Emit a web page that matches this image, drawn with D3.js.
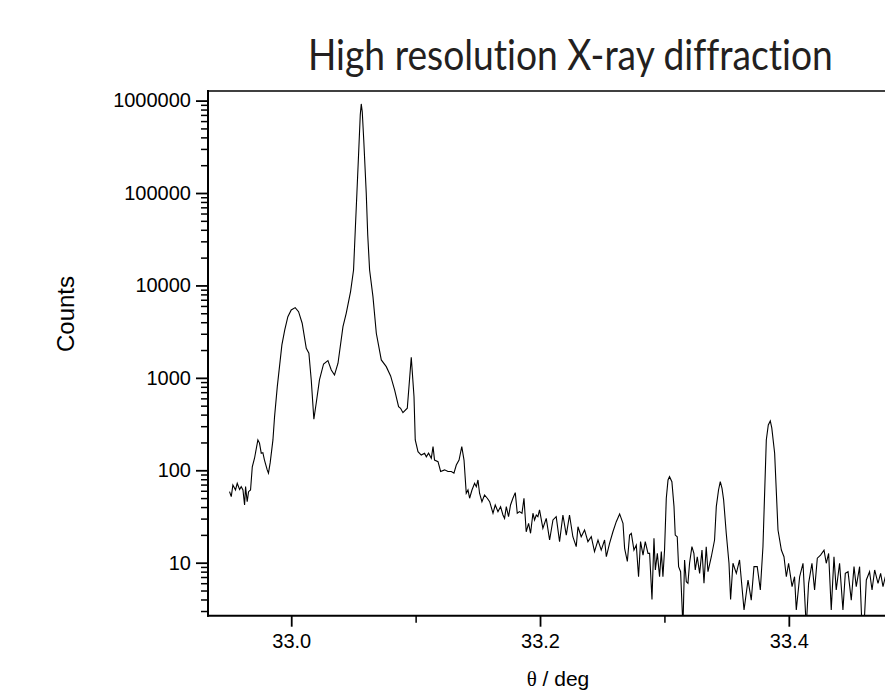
<!DOCTYPE html>
<html>
<head>
<meta charset="utf-8">
<script src="https://cdn.jsdelivr.net/npm/d3@7"></script>
<style>
  html, body { margin: 0; padding: 0; background: #fff; overflow: hidden; }
  svg { display: block; }
  .title { font-variant-ligatures: none; font-feature-settings: "liga" 0, "clig" 0; }
</style>
</head>
<body>
<svg id="chart" width="885" height="692"></svg>
<script>
// ---- data ----
const titleText = "High resolution X-ray diffraction";
const xLabel = "θ / deg";
const yLabel = "Counts";
const xMajorTicks = [33.0, 33.2, 33.4];
const xMinorTicks = [33.1, 33.3];
const yMajorTicks = [10, 100, 1000, 10000, 100000, 1000000];

const theta = [
  32.9504, 32.9518, 32.9531, 32.9552, 32.9566, 32.9585, 32.9598, 32.9612, 32.9625, 32.9633,
  32.9646, 32.9657, 32.9673, 32.9687, 32.9705, 32.9732, 32.9745, 32.9759, 32.9772, 32.9785,
  32.9807, 32.9817, 32.9831, 32.9853, 32.9866, 32.9888, 32.9925, 32.9948, 32.9973, 33.0000,
  33.0032, 33.0059, 33.0088, 33.0121, 33.0142, 33.0161, 33.0182, 33.0201, 33.0227, 33.0260,
  33.0295, 33.0322, 33.0348, 33.0376, 33.0416, 33.0442, 33.0477, 33.0501, 33.0515, 33.0528,
  33.0543, 33.0555, 33.0563, 33.0571, 33.0583, 33.0603, 33.0615, 33.0630, 33.0657, 33.0684,
  33.0724, 33.0764, 33.0799, 33.0831, 33.0863, 33.0879, 33.0898, 33.0933, 33.0965, 33.0987,
  33.0997, 33.1019, 33.1045, 33.1072, 33.1086, 33.1104, 33.1126, 33.1140, 33.1152, 33.1180,
  33.1201, 33.1233, 33.1260, 33.1287, 33.1308, 33.1327, 33.1349, 33.1371, 33.1389, 33.1407,
  33.1421, 33.1434, 33.1453, 33.1474, 33.1488, 33.1501, 33.1514, 33.1533, 33.1554, 33.1576,
  33.1595, 33.1622, 33.1640, 33.1662, 33.1683, 33.1702, 33.1715, 33.1729, 33.1747, 33.1763,
  33.1782, 33.1801, 33.1817, 33.1835, 33.1855, 33.1871, 33.1889, 33.1908, 33.1924, 33.1943,
  33.1956, 33.1970, 33.1983, 33.1996, 33.2023, 33.2050, 33.2077, 33.2104, 33.2130, 33.2157,
  33.2184, 33.2211, 33.2237, 33.2264, 33.2291, 33.2305, 33.2331, 33.2358, 33.2385, 33.2412,
  33.2438, 33.2466, 33.2492, 33.2519, 33.2533, 33.2559, 33.2586, 33.2613, 33.2640, 33.2667,
  33.2680, 33.2702, 33.2720, 33.2734, 33.2755, 33.2774, 33.2792, 33.2808, 33.2828, 33.2846,
  33.2868, 33.2881, 33.2900, 33.2916, 33.2927, 33.2943, 33.2961, 33.2975, 33.2988, 33.3001,
  33.3015, 33.3029, 33.3041, 33.3060, 33.3077, 33.3087, 33.3103, 33.3114, 33.3130, 33.3149,
  33.3162, 33.3176, 33.3189, 33.3202, 33.3221, 33.3237, 33.3248, 33.3264, 33.3283, 33.3302,
  33.3318, 33.3336, 33.3350, 33.3377, 33.3403, 33.3417, 33.3435, 33.3449, 33.3463, 33.3476,
  33.3497, 33.3519, 33.3532, 33.3551, 33.3578, 33.3604, 33.3640, 33.3672, 33.3698, 33.3720,
  33.3746, 33.3771, 33.3792, 33.3819, 33.3835, 33.3851, 33.3863, 33.3886, 33.3913, 33.3940,
  33.3961, 33.3980, 33.3998, 33.4026, 33.4046, 33.4060, 33.4087, 33.4114, 33.4140, 33.4159,
  33.4186, 33.4207, 33.4229, 33.4255, 33.4283, 33.4301, 33.4320, 33.4341, 33.4363, 33.4381,
  33.4408, 33.4435, 33.4454, 33.4476, 33.4502, 33.4524, 33.4542, 33.4569, 33.4588, 33.4604,
  33.4623, 33.4649, 33.4669, 33.4690, 33.4717, 33.4738, 33.4757, 33.4776, 33.4800
];

const counts = [
  58.7, 51.8, 69.3, 61.2, 72.3, 62.0, 66.5, 61.2, 42.1, 66.5,
  45.7, 58.7, 61.2, 109, 135, 213, 197, 153, 155, 129,
  101, 93, 121, 213, 380, 803, 2270, 3300, 4595, 5430,
  5750, 5200, 3900, 2090, 1846, 949, 357, 535, 949, 1414,
  1535, 1218, 1075, 1439, 3585, 5000, 8580, 14700, 40000, 100000,
  293000, 700000, 920000, 757000, 375000, 100000, 35200, 14700, 7570, 3040,
  1563, 1322, 1049, 740, 488, 469, 420, 469, 1671, 626,
  213, 159, 146, 153, 140, 153, 135, 180, 129, 124,
  97, 101, 97, 97, 93, 114, 129, 180, 129, 56.4,
  61.2, 49.8, 61.2, 72.3, 66.5, 78.5, 56.4, 45.7, 54.0, 49.8,
  45.7, 34.3, 42.1, 35.7, 40.4, 32.8, 30.2, 40.4, 31.5, 42.1,
  49.8, 57.3, 34.3, 35.7, 34.3, 49.8, 21.6, 26.7, 20.8, 34.3,
  29.0, 32.8, 31.5, 37.2, 23.6, 30.2, 17.6, 29.0, 31.5, 16.9,
  32.8, 19.9, 32.8, 19.1, 14.9, 24.5, 19.1, 22.6, 16.9, 19.1,
  13.2, 17.6, 13.7, 17.6, 11.6, 16.2, 21.6, 27.8, 33.7, 26.7,
  14.3, 10.3, 19.9, 20.8, 13.7, 15.5, 7.05, 16.9, 12.1, 16.9,
  12.6, 12.6, 4.0, 18.4, 8.34, 12.6, 7.05, 13.2, 7.05, 13.7,
  49.8, 78.5, 85.3, 75.3, 40.4, 19.9, 19.1, 9.06, 7.99, 2.0,
  10.7, 6.23, 5.98, 9.86, 14.9, 12.6, 8.34, 11.6, 7.67, 13.7,
  5.98, 14.9, 7.99, 11.6, 17.6, 40.4, 61.2, 75.3, 63.8, 47.7,
  20.8, 9.86, 4.0, 9.86, 7.67, 10.7, 3.08, 6.5, 3.94, 9.06,
  9.06, 5.07, 14.9, 213, 309, 342, 287, 153, 22.6, 13.7,
  11.6, 7.05, 9.86, 5.5, 7.05, 3.08, 7.05, 9.86, 2.0, 5.98,
  9.86, 5.07, 11.2, 12.1, 13.7, 9.86, 12.6, 3.08, 11.6, 5.07,
  9.86, 3.08, 7.67, 7.99, 3.94, 9.06, 5.5, 9.06, 2.0, 2.0,
  6.5, 7.99, 5.07, 8.34, 5.98, 7.67, 5.5, 7.05, 5.07
];

const data = theta.map((t, i) => ({ t: t, c: counts[i] }));

// ---- layout ----
const svg = d3.select("#chart");
const plotLeft = 208, plotTop = 91, plotBottom = 615.7;
const pxPerDeg = 1244;
const xMin = 32.9331, xMax = 33.5;

const x = d3.scaleLinear().domain([xMin, xMax])
  .range([plotLeft, plotLeft + (xMax - xMin) * pxPerDeg]);
const y = d3.scaleLog().domain([2.67, 1.27e6]).range([plotBottom, plotTop]);

const plotRight = Math.min(x(xMax), 885);

svg.append("defs").append("clipPath").attr("id", "clip")
  .append("rect").attr("x", plotLeft).attr("y", plotTop)
  .attr("width", x(xMax) - plotLeft).attr("height", plotBottom - plotTop);

// curve
const line = d3.line().x(d => x(d.t)).y(d => y(d.c));
svg.append("path")
  .datum(data)
  .attr("clip-path", "url(#clip)")
  .attr("fill", "none")
  .attr("stroke", "#000")
  .attr("stroke-width", 1.1)
  .attr("stroke-linejoin", "miter")
  .attr("d", line);

// y minor ticks
const yMinor = [];
for (let e = 0; e <= 6; e++) {
  for (let m = 2; m <= 9; m++) {
    const v = m * Math.pow(10, e);
    if (v >= y.domain()[0] && v <= y.domain()[1]) yMinor.push(v);
  }
}
const tickFont = "'Liberation Sans', Arial, Helvetica, sans-serif";

const yAxisMinor = d3.axisLeft(y).tickValues(yMinor).tickSize(7).tickFormat("");
const gyMin = svg.append("g").attr("transform", `translate(${plotLeft},0)`).call(yAxisMinor);
gyMin.select(".domain").remove();
gyMin.selectAll(".tick line").attr("stroke-width", 1.5);

const yAxisMajor = d3.axisLeft(y).tickValues(yMajorTicks).tickSize(12).tickPadding(5)
  .tickFormat(d3.format("d"));
const gy = svg.append("g").attr("transform", `translate(${plotLeft},0)`).call(yAxisMajor);
gy.select(".domain").remove();
gy.selectAll(".tick line").attr("stroke-width", 1.8);
gy.selectAll(".tick text").attr("font-family", tickFont).attr("font-size", 20).attr("fill", "#000");

// x ticks
const xAxisMinor = d3.axisBottom(x).tickValues(xMinorTicks).tickSize(7).tickFormat("");
const gxMin = svg.append("g").attr("transform", `translate(0,${plotBottom})`).call(xAxisMinor);
gxMin.select(".domain").remove();
gxMin.selectAll(".tick line").attr("stroke-width", 1.5);

const xAxisMajor = d3.axisBottom(x).tickValues(xMajorTicks).tickSize(11).tickPadding(7)
  .tickFormat(d3.format(".1f"));
const gx = svg.append("g").attr("transform", `translate(0,${plotBottom})`).call(xAxisMajor);
gx.select(".domain").remove();
gx.selectAll(".tick line").attr("stroke-width", 1.8);
gx.selectAll(".tick text").attr("font-family", tickFont).attr("font-size", 20).attr("fill", "#000");

// frame lines
svg.append("line").attr("x1", plotLeft).attr("x2", plotLeft)
  .attr("y1", plotTop - 1).attr("y2", plotBottom + 1)
  .attr("stroke", "#000").attr("stroke-width", 2);
svg.append("line").attr("x1", plotLeft - 1).attr("x2", plotRight)
  .attr("y1", plotBottom).attr("y2", plotBottom)
  .attr("stroke", "#000").attr("stroke-width", 2);
svg.append("line").attr("x1", plotLeft - 1).attr("x2", plotRight)
  .attr("y1", plotTop).attr("y2", plotTop)
  .attr("stroke", "#000").attr("stroke-width", 1.5);

// title: scaled horizontally to the reference's width (Myriad-like condensed look)
const titleWidth = 525;
const tg = svg.append("g");
const tt = tg.append("text")
  .attr("class", "title")
  .attr("x", 0).attr("y", 0)
  .attr("font-family", "Lato, 'Open Sans', sans-serif")
  .attr("font-size", 42)
  .attr("fill", "#231f20")
  .text(titleText);
const natural = tt.node().getComputedTextLength();
const sx = natural > 0 ? titleWidth / natural : 1;
tg.attr("transform", `translate(308,70) scale(${sx},1)`);

// axis labels
svg.append("text")
  .attr("transform", "translate(74,314) rotate(-90)")
  .attr("text-anchor", "middle")
  .attr("font-family", tickFont)
  .attr("font-size", 24)
  .attr("fill", "#000")
  .text(yLabel);

const xl = svg.append("text")
  .attr("x", 558).attr("y", 686)
  .attr("text-anchor", "middle")
  .attr("font-family", tickFont)
  .attr("font-size", 21)
  .attr("fill", "#000");
xl.append("tspan").attr("font-family", "'Liberation Serif', 'Times New Roman', serif").text(xLabel.slice(0, 1));
xl.append("tspan").text(xLabel.slice(1));
</script>
</body>
</html>
